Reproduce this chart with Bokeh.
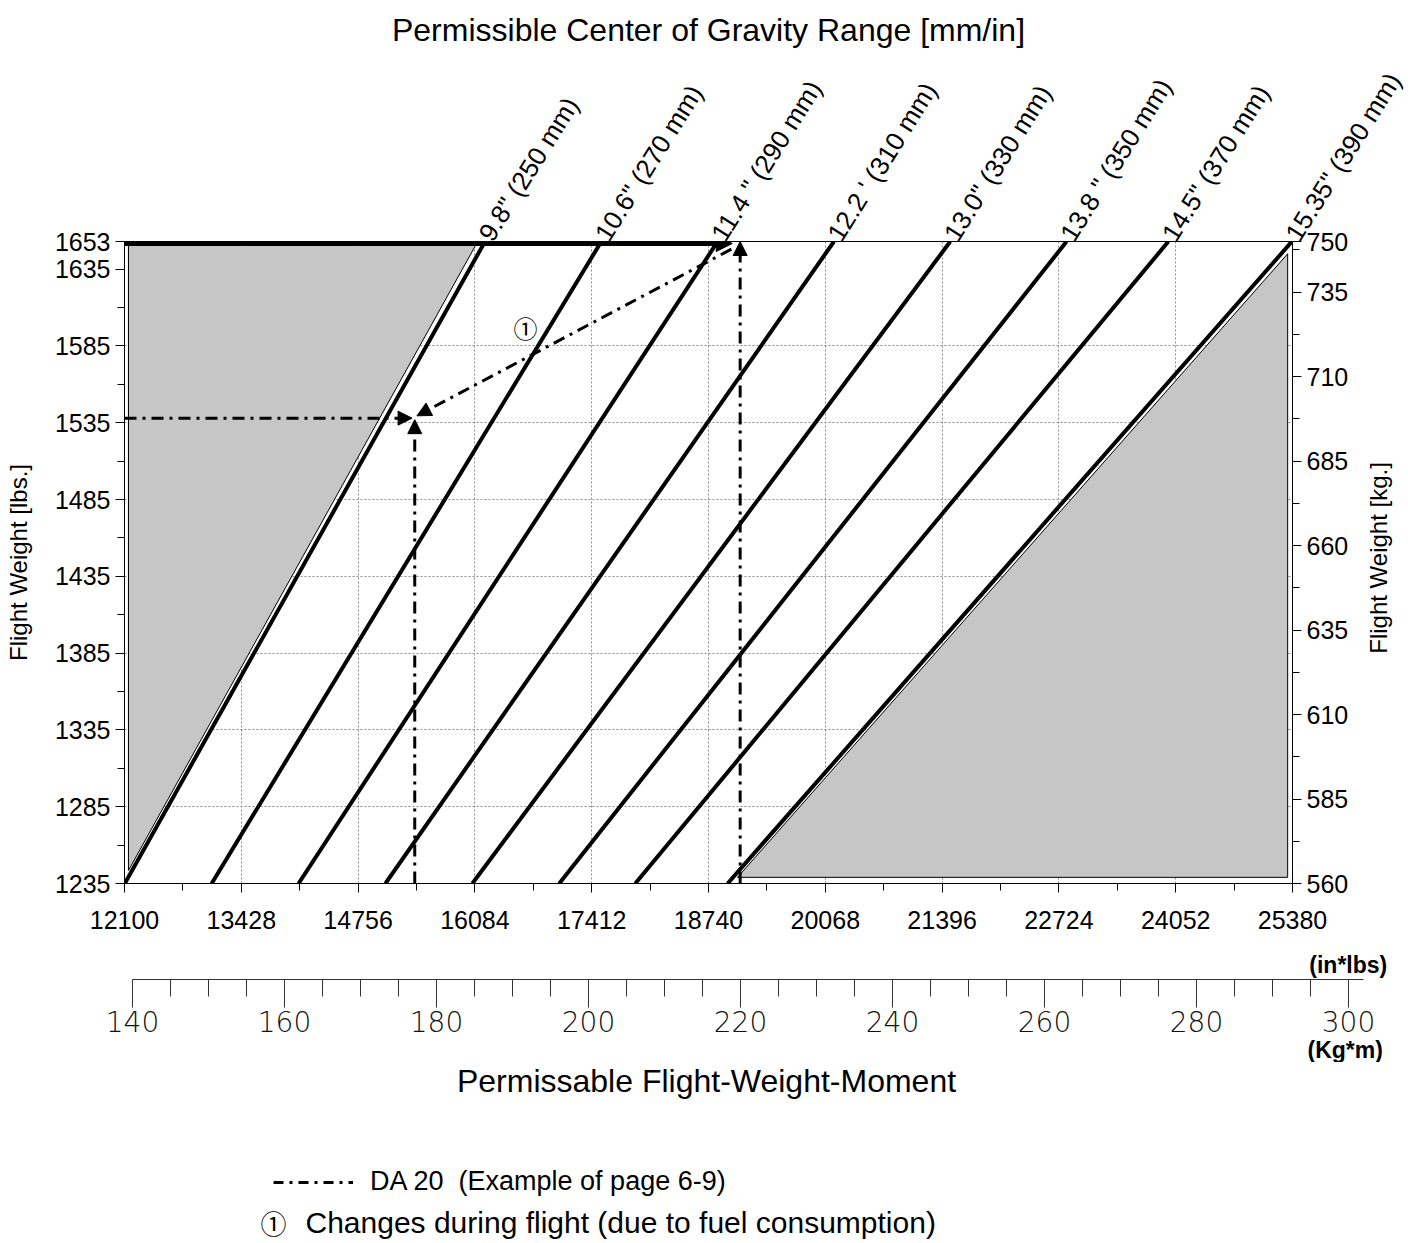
import math
from bokeh.plotting import figure
from bokeh.models import (Range1d, LinearAxis, FixedTicker, Label, Title, Legend, LegendItem,
                          Arrow, NormalHead)
from bokeh.layouts import column
from bokeh.embed import file_html
from bokeh.resources import INLINE

# ---------------- data ----------------
weight_min_lbs = 1235
weight_max_lbs = 1653
moment_min = 12100
moment_max = 25380
kg_min = 560
kg_max = 750

arm_in = [9.8, 10.6, 11.4, 12.2, 13.0, 13.8, 14.5, 15.35]
arm_labels = ['9.8" (250 mm)', '10.6" (270 mm)', '11.4 " (290 mm)', "12.2 ' (310 mm)",
              '13.0" (330 mm)', '13.8 " (350 mm)', '14.5" (370 mm)', '15.35" (390 mm)']

moment_ticks = [12100, 13428, 14756, 16084, 17412, 18740, 20068, 21396, 22724, 24052, 25380]
moment_minor = [12764, 14092, 15420, 16748, 18076, 19404, 20732, 22060, 23388, 24716]
lbs_ticks = [1235, 1285, 1335, 1385, 1435, 1485, 1535, 1585, 1635, 1653]
lbs_minor = [1260, 1310, 1360, 1410, 1460, 1510, 1560, 1610]
kg_ticks = [560, 585, 610, 635, 660, 685, 710, 735, 750]
kg_minor = [572.5, 597.5, 622.5, 647.5, 672.5, 697.5, 722.5, 747.5]
kg_label_pos = 628
kgm_ticks = [140, 160, 180, 200, 220, 240, 260, 280, 300]
kgm_minor = [145, 150, 155, 165, 170, 175, 185, 190, 195, 205, 210, 215, 225, 230, 235,
             245, 250, 255, 265, 270, 275, 285, 290, 295]
kgm_axis_end = 302

# forward / aft limit shaded regions (moment, weight)
fwd_region_x = [12145, 16091, 12145]
fwd_region_y = [1650.4, 1650.4, 1243.5]
aft_region_x = [19070, 25325, 25325]
aft_region_y = [1239, 1239, 1645]

# example DA 20 (page 6-9)
ex_takeoff_weight = 1653
ex_takeoff_moment = 19100
ex_landing_weight = 1538
ex_landing_moment = 15400
ex_top_arrow_end = 19010
ex_diag_start = (19000, 1648)
ex_diag_end = (15425, 1539.5)
ex_marker_pos = (16660, 1597)

FONT = "Liberation Sans"
DASHDOT = "12 6 3 6"
W = 1408

# ---------------- main figure ----------------
p = figure(width=W, height=945,
           x_range=Range1d(moment_min, moment_max),
           y_range=Range1d(weight_min_lbs, weight_max_lbs),
           output_backend="svg", toolbar_location=None, frame_align=False,
           min_border_left=124, min_border_right=W - 1292,
           min_border_top=241, min_border_bottom=62)
p.outline_line_color = "black"
p.outline_line_width = 1
p.background_fill_color = "white"
p.border_fill_color = "white"

p.title.text = "Permissible Center of Gravity Range [mm/in]"
p.title.align = "center"
p.title.text_font = FONT
p.title.text_font_style = "normal"
p.title.text_font_size = "32px"
p.title.text_color = "black"
p.title.standoff = 17

# grids
p.xgrid.ticker = FixedTicker(ticks=moment_ticks[1:-1])
p.ygrid.ticker = FixedTicker(ticks=lbs_ticks[1:-2])
for g in (p.xgrid, p.ygrid):
    g.grid_line_color = "#8c8c8c"
    g.grid_line_dash = "2 2"
    g.grid_line_width = 1

def style_axis(ax, size="25px"):
    ax.axis_line_color = "black"
    ax.major_tick_line_color = "black"
    ax.minor_tick_line_color = "black"
    ax.major_tick_in = 0
    ax.minor_tick_in = 0
    ax.major_tick_out = 9
    ax.minor_tick_out = 7
    ax.major_label_text_font = FONT
    ax.major_label_text_font_size = size
    ax.major_label_text_color = "black"
    ax.axis_label_text_font = FONT
    ax.axis_label_text_font_style = "normal"
    ax.axis_label_text_font_size = "24px"
    ax.axis_label_text_color = "black"

xa = p.xaxis[0]
xa.ticker = FixedTicker(ticks=moment_ticks, minor_ticks=moment_minor)
style_axis(xa)
xa.major_label_standoff = 18

ya = p.yaxis[0]
ya.ticker = FixedTicker(ticks=lbs_ticks, minor_ticks=lbs_minor)
style_axis(ya)
ya.axis_label = "Flight Weight [lbs.]"
ya.major_label_standoff = 5
ya.axis_label_standoff = 20

p.extra_y_ranges = {"kg": Range1d(kg_min, kg_max)}
ra = LinearAxis(y_range_name="kg", ticker=FixedTicker(ticks=kg_ticks, minor_ticks=kg_minor))
style_axis(ra)
ra.major_label_standoff = 5
p.add_layout(ra, "right")

# right-hand axis title (reads bottom-to-top like the left one)
ra_title = LinearAxis(y_range_name="kg", ticker=FixedTicker(ticks=[kg_label_pos], minor_ticks=[]),
                      major_label_overrides={kg_label_pos: "Flight Weight [kg.]"},
                      major_label_orientation=math.pi / 2)
ra_title.axis_line_color = None
ra_title.major_tick_line_color = None
ra_title.minor_tick_line_color = None
ra_title.major_tick_out = 0
ra_title.major_tick_in = 0
ra_title.major_label_standoff = 27
ra_title.major_label_text_font = FONT
ra_title.major_label_text_font_size = "24px"
ra_title.major_label_text_color = "black"
p.add_layout(ra_title, "right")

# CG-line labels: an axis above the frame, one tick at the top end of each line
x_top = [round(a * weight_max_lbs, 2) for a in arm_in]
x_bot = [round(a * weight_min_lbs, 2) for a in arm_in]
ta = LinearAxis(ticker=FixedTicker(ticks=x_top, minor_ticks=[]),
                major_label_overrides={x: t for x, t in zip(x_top, arm_labels)},
                major_label_orientation=1.01)
ta.axis_line_color = None
ta.major_tick_line_color = None
ta.minor_tick_line_color = None
ta.major_tick_out = 0
ta.major_tick_in = 0
ta.major_label_standoff = 3
ta.major_label_text_font = FONT
ta.major_label_text_font_size = "26px"
ta.major_label_text_color = "black"
p.add_layout(ta, "above")

# shaded limit regions
p.patch(fwd_region_x, fwd_region_y, fill_color="#c6c6c6", line_color="black", line_width=1)
p.patch(aft_region_x, aft_region_y, fill_color="#c6c6c6", line_color="black", line_width=1)

# CG lines: moment = weight * arm
p.segment(x0=x_bot, y0=[weight_min_lbs] * len(arm_in), x1=x_top, y1=[weight_max_lbs] * len(arm_in),
          line_color="black", line_width=4)

# example path
def head(size=14):
    return NormalHead(size=size, fill_color="black", line_color="black")

p.add_layout(Arrow(end=head(16), x_start=moment_min, y_start=weight_max_lbs - 1.3,
                   x_end=ex_top_arrow_end, y_end=weight_max_lbs - 1.3,
                   line_color="black", line_width=5))
p.add_layout(Arrow(end=head(), x_start=ex_takeoff_moment, y_start=weight_min_lbs,
                   x_end=ex_takeoff_moment, y_end=ex_takeoff_weight,
                   line_color="black", line_width=3, line_dash=DASHDOT))
p.add_layout(Arrow(end=head(), x_start=ex_diag_start[0], y_start=ex_diag_start[1],
                   x_end=ex_diag_end[0], y_end=ex_diag_end[1],
                   line_color="black", line_width=3, line_dash=DASHDOT))
p.add_layout(Arrow(end=head(), x_start=moment_min, y_start=ex_landing_weight,
                   x_end=ex_landing_moment - 30, y_end=ex_landing_weight,
                   line_color="black", line_width=3, line_dash=DASHDOT))
p.add_layout(Arrow(end=head(), x_start=ex_landing_moment, y_start=weight_min_lbs,
                   x_end=ex_landing_moment, y_end=ex_landing_weight - 1,
                   line_color="black", line_width=3, line_dash=DASHDOT))
p.add_layout(Label(x=ex_marker_pos[0], y=ex_marker_pos[1], text="①",
                   text_align="center", text_baseline="middle",
                   text_font="Noto Sans CJK JP", text_font_size="24px", text_color="black"))

# ---------------- secondary (Kg*m) axis figure ----------------
px_per_kgm = 7.6
q_left = 132
q_end = 140 + (W - q_left) / px_per_kgm
q = figure(width=W, height=117, x_range=Range1d(140, q_end), y_range=Range1d(0, 1),
           output_backend="svg", toolbar_location=None, y_axis_location=None, frame_align=False,
           min_border_left=q_left, min_border_right=0, min_border_top=0, min_border_bottom=81)
q.outline_line_color = None
q.grid.visible = False
qa = q.xaxis[0]
qa.ticker = FixedTicker(ticks=kgm_ticks, minor_ticks=kgm_minor)
qa.bounds = (kgm_ticks[0], kgm_axis_end)
qa.axis_line_color = "#333333"
qa.major_tick_line_color = "#333333"
qa.minor_tick_line_color = "#333333"
qa.major_tick_in = 0
qa.minor_tick_in = 0
qa.major_tick_out = 28
qa.minor_tick_out = 17
qa.major_label_standoff = 3
qa.major_label_text_font = "DejaVu Sans Light"
qa.major_label_text_font_size = "28px"
qa.major_label_text_color = "#111111"

q.add_layout(Label(x=305.1, y=0.42, text="(in*lbs)", text_font=FONT, text_font_style="bold",
                   text_font_size="23px", text_color="black", text_align="right",
                   text_baseline="middle"))
q.add_layout(Title(text="(Kg*m)", align="left", offset=1307 - q_left, standoff=0,
                   text_font=FONT, text_font_style="bold", text_font_size="23px",
                   text_color="black"), "below")

# ---------------- bottom annotation panel ----------------
H3 = 181
r = figure(width=W, height=H3, x_range=Range1d(0, W), y_range=Range1d(H3, 0),
           output_backend="svg", toolbar_location=None, frame_align=False,
           x_axis_location=None, y_axis_location=None,
           min_border_left=0, min_border_right=0, min_border_top=0, min_border_bottom=0)
r.outline_line_color = None
r.grid.visible = False
r.add_layout(Label(x=706, y=18, text="Permissable Flight-Weight-Moment",
                   text_align="center", text_baseline="middle",
                   text_font=FONT, text_font_size="32px", text_color="black"))
# off-view placeholder renderer that only provides the legend's line sample
sample = r.line(x=[-200, -100], y=[-50, -50], line_color="black", line_width=3,
                line_dash="10 6 3 6")
leg = Legend(items=[LegendItem(label="DA 20  (Example of page 6-9)", renderers=[sample])],
             location=(273, 46), orientation="vertical",
             glyph_width=80, glyph_height=20, label_standoff=17, padding=0, margin=0,
             border_line_color=None, background_fill_alpha=0,
             label_text_font=FONT, label_text_font_size="27px", label_text_color="black")
r.add_layout(leg)
r.add_layout(Label(x=273, y=160, text="①", text_align="center", text_baseline="middle",
                   text_font="Noto Sans CJK JP", text_font_size="26px", text_color="black"))
r.add_layout(Label(x=305, y=160, text="Changes during flight (due to fuel consumption)",
                   text_align="left", text_baseline="middle",
                   text_font=FONT, text_font_size="30px", text_color="black"))

layout = column(p, q, r, spacing=0)
open("out.html", "w").write(file_html(layout, INLINE))
